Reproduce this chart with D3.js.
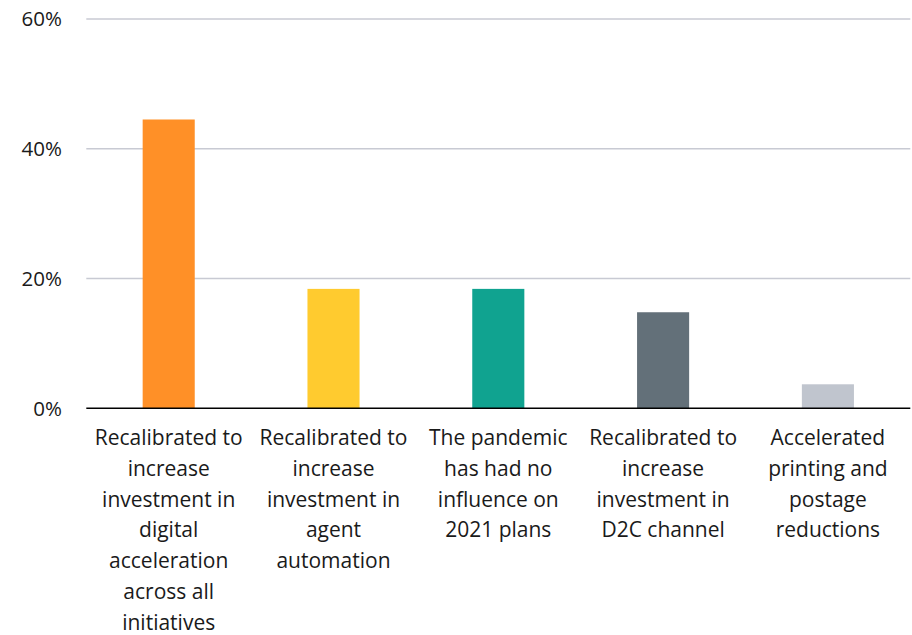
<!DOCTYPE html>
<html><head><meta charset="utf-8">
<script src="https://cdn.jsdelivr.net/npm/d3@7"></script>
<style>body{margin:0;background:#fff;} svg{display:block;}</style>
</head><body>
<svg id="c" width="912" height="635"></svg>
<script>
const categories = [
  ["Recalibrated to","increase","investment in","digital","acceleration","across all","initiatives"],
  ["Recalibrated to","increase","investment in","agent","automation"],
  ["The pandemic","has had no","influence on","2021 plans"],
  ["Recalibrated to","increase","investment in","D2C channel"],
  ["Accelerated","printing and","postage","reductions"]
];
const values = [44.5, 18.4, 18.4, 14.8, 3.7];
const colors = ["#FF9027", "#FFCB2F", "#10A390", "#637079", "#C0C5CE"];
const yTicks = [0, 20, 40, 60];
const tickLabels = ["0%", "20%", "40%", "60%"];

const svg = d3.select("#c");
const font = "'Open Sans', sans-serif";
const x = d3.scaleBand().domain(d3.range(values.length)).range([86.3, 910.3]).paddingInner(0.684).paddingOuter(0.342);
const y = d3.scaleLinear().domain([0, 60]).range([408.3, 18.9]);

svg.append("g").selectAll("line").data(yTicks.filter(d => d > 0)).join("line")
  .attr("x1", 86.3).attr("x2", 910.3).attr("y1", d => y(d)).attr("y2", d => y(d))
  .attr("stroke", "#C8CAD3").attr("stroke-width", 1.5);

svg.append("g").selectAll("text").data(yTicks).join("text")
  .attr("x", 62).attr("y", d => y(d) + 7.5).attr("text-anchor", "end")
  .attr("font-family", font).attr("font-size", 20.5).attr("fill", "#1a1a1a")
  .text((d, i) => tickLabels[i]);

svg.append("g").selectAll("rect").data(values).join("rect")
  .attr("x", (d, i) => x(i)).attr("width", x.bandwidth())
  .attr("y", d => y(d)).attr("height", d => y(0) - y(d))
  .attr("fill", (d, i) => colors[i]);

svg.append("line").attr("x1", 86.3).attr("x2", 910.3).attr("y1", y(0)).attr("y2", y(0))
  .attr("stroke", "#000").attr("stroke-width", 1.5);

const lab = svg.append("g").selectAll("text").data(categories).join("text")
  .attr("text-anchor", "middle").attr("font-family", font).attr("font-size", 21).attr("fill", "#1a1a1a");
lab.each(function(lines, i) {
  d3.select(this).selectAll("tspan").data(lines).join("tspan")
    .attr("x", x(i) + x.bandwidth() / 2).attr("y", (d, j) => 445 + j * 30.8)
    .text(d => d);
});
</script>
</body></html>
